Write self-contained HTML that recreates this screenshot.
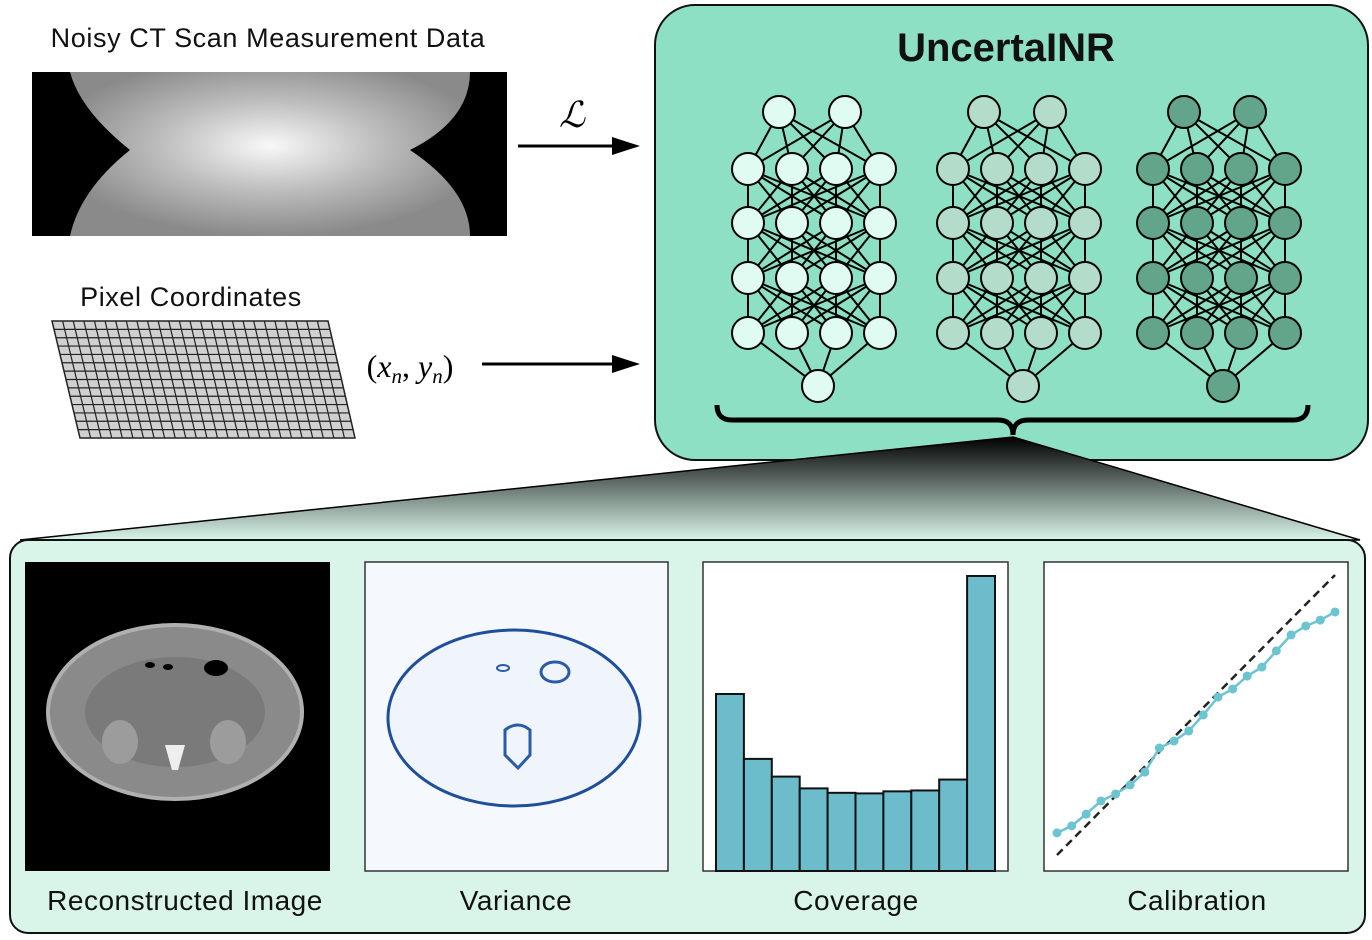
<!DOCTYPE html>
<html><head><meta charset="utf-8"><style>
body{margin:0;background:#fff;}
svg{display:block;font-family:"Liberation Sans",sans-serif;}
</style></head><body>
<svg id="fig" width="1372" height="940" viewBox="0 0 1372 940" xmlns="http://www.w3.org/2000/svg">
<defs>
<linearGradient id="funnel" x1="0" y1="0" x2="0" y2="1">
<stop offset="0" stop-color="#000"/><stop offset="1" stop-color="#d9f5ea"/>
</linearGradient>
<radialGradient id="sino" cx="0.5" cy="0.45" r="0.55">
<stop offset="0" stop-color="#f8f8f8"/><stop offset="0.5" stop-color="#bdbdbd"/><stop offset="1" stop-color="#8a8a8a"/>
</radialGradient>
</defs>

<text x="268" y="47" font-size="27" text-anchor="middle" fill="#111" letter-spacing="0.6">Noisy CT Scan Measurement Data</text>
<g>
<rect x="32" y="72" width="475" height="164" fill="#000"/>
<path d="M70,72 L470,72 Q470,120 410,150 Q470,190 470,236 L70,236 Q80,190 130,150 Q80,110 70,72 Z" fill="url(#sino)"/>
</g>

<text x="572" y="127" font-size="36" font-style="italic" text-anchor="middle" font-family="Liberation Serif,serif">ℒ</text>
<g><line x1="518" y1="146" x2="618" y2="146" stroke="#000" stroke-width="3"/><path d="M640,146 L612,137 L612,155 Z"/></g>
<g><line x1="482" y1="364" x2="618" y2="364" stroke="#000" stroke-width="3"/><path d="M640,364 L612,355 L612,373 Z"/></g>
<text x="410" y="377" font-size="32" text-anchor="middle" font-family="Liberation Serif,serif">(<tspan font-style="italic">x</tspan><tspan font-style="italic" font-size="21" dy="6">n</tspan><tspan dy="-6">, </tspan><tspan font-style="italic">y</tspan><tspan font-style="italic" font-size="21" dy="6">n</tspan><tspan dy="-6">)</tspan></text>

<text x="191" y="306" font-size="27" text-anchor="middle" fill="#111" letter-spacing="0.6">Pixel Coordinates</text>
<g id="grid"></g>

<rect x="655" y="5" width="713" height="455" rx="40" fill="#8de0c3" stroke="#111" stroke-width="2"/>
<text x="1006" y="61" font-size="40" font-weight="bold" text-anchor="middle" fill="#111">UncertaINR</text>
<g id="nets"></g>
<path d="M717,405 Q717,420 732,420 L998,420 Q1013,420 1013,435 Q1013,420 1028,420 L1293,420 Q1308,420 1308,405" fill="none" stroke="#000" stroke-width="5"/>

<path d="M1013,437 L1360,540 L20,540 Z" fill="url(#funnel)" stroke="#000" stroke-width="1.5"/>

<rect x="10" y="540" width="1355" height="393" rx="18" fill="#d9f5ea" stroke="#111" stroke-width="2"/>

<g>
<rect x="25" y="562" width="305" height="309" fill="#000"/>
<ellipse cx="175" cy="712" rx="127" ry="87" fill="#8a8a8a" stroke="#b0b0b0" stroke-width="4"/>
<ellipse cx="175" cy="712" rx="90" ry="55" fill="#7a7a7a"/>
<ellipse cx="120" cy="742" rx="18" ry="22" fill="#9c9c9c"/>
<ellipse cx="228" cy="742" rx="18" ry="22" fill="#9c9c9c"/>
<path d="M165,745 L185,745 L178,770 L172,770 Z" fill="#eee"/>
<ellipse cx="216" cy="668" rx="12" ry="8" fill="#000"/>
<ellipse cx="150" cy="665" rx="5" ry="3" fill="#000"/><ellipse cx="168" cy="667" rx="5" ry="3" fill="#000"/>
</g>
<text x="185" y="910" font-size="28" text-anchor="middle" fill="#111" letter-spacing="0.5">Reconstructed Image</text>

<g>
<rect x="365" y="562" width="303" height="309" fill="#f5f9fd" stroke="#333" stroke-width="1.5"/>
<ellipse cx="514" cy="718" rx="126" ry="88" fill="#f0f5fb" stroke="#1f4e9a" stroke-width="3"/>
<path d="M505,730 Q518,720 530,730 L530,755 L518,768 L505,755 Z" fill="none" stroke="#2a5aa8" stroke-width="3"/>
<ellipse cx="555" cy="672" rx="14" ry="10" fill="none" stroke="#2a5aa8" stroke-width="3"/>
<ellipse cx="503" cy="668" rx="6" ry="3" fill="none" stroke="#2a5aa8" stroke-width="2"/>
</g>
<text x="516" y="910" font-size="28" text-anchor="middle" fill="#111" letter-spacing="0.5">Variance</text>

<rect x="703" y="562" width="305" height="309" fill="#fff" stroke="#333" stroke-width="1.5"/>
<g id="hist"></g>
<text x="856" y="910" font-size="28" text-anchor="middle" fill="#111" letter-spacing="0.5">Coverage</text>

<rect x="1044" y="562" width="304" height="309" fill="#fff" stroke="#333" stroke-width="1.5"/>
<g id="calib"></g>
<text x="1197" y="910" font-size="28" text-anchor="middle" fill="#111" letter-spacing="0.5">Calibration</text>
</svg>
<script>
const NS="http://www.w3.org/2000/svg";
const coverageBins=[0,1,2,3,4,5,6,7,8,9];
const coverageCounts=[0.60,0.38,0.32,0.28,0.265,0.263,0.27,0.273,0.31,1.0];
const calibExpected=[0,0.053,0.105,0.158,0.211,0.263,0.316,0.368,0.421,0.474,0.526,0.579,0.632,0.684,0.737,0.789,0.842,0.895,0.947,1.0];
const calibObserved=[0.079,0.104,0.146,0.193,0.218,0.25,0.296,0.382,0.407,0.443,0.5,0.564,0.593,0.639,0.671,0.729,0.786,0.818,0.839,0.868];
const netColors=["#e0fbf2","#b3dccb","#62a58a"];

function mk(tag,attrs,parent){const e=document.createElementNS(NS,tag);for(const k in attrs)e.setAttribute(k,attrs[k]);parent.appendChild(e);return e;}

const g=document.getElementById('grid');
const TL=[52,321],TR=[328,321],BR=[355,438],BL=[80,438];
mk('polygon',{points:[TL,TR,BR,BL].map(p=>p.join(',')).join(' '),fill:'#d0d0d0',stroke:'#222','stroke-width':1.5},g);
const cols=26,rows=14;
for(let i=1;i<cols;i++){const t=i/cols;mk('line',{x1:TL[0]+(TR[0]-TL[0])*t,y1:321,x2:BL[0]+(BR[0]-BL[0])*t,y2:438,stroke:'#222','stroke-width':1.2},g);}
for(let j=1;j<rows;j++){const t=j/rows;const y=321+117*t;mk('line',{x1:52+28*t,y1:y,x2:328+27*t,y2:y,stroke:'#222','stroke-width':1.2},g);}

const nets=document.getElementById('nets');
const offs=[0,205,405];
offs.forEach((o,k)=>{
  const grp=mk('g',{},nets);
  
  
  const layers=[[[779+o,112],[845+o,112]]];
  [169,223,278,333].forEach(y=>layers.push([748,792,836,880].map(x=>[x+o,y])));
  layers.push([[818+o,386]]);
  for(let l=0;l<layers.length-1;l++)for(const a of layers[l])for(const b of layers[l+1])
    mk('line',{x1:a[0],y1:a[1],x2:b[0],y2:b[1],stroke:'#000','stroke-width':2},grp);
  for(const L of layers)for(const p of L){
    const c=mk('circle',{cx:p[0],cy:p[1],r:16,fill:netColors[k],stroke:'#000','stroke-width':2},grp);
    
    
  }
});

const hist=document.getElementById('hist');
const hx0=716,hx1=995,hy0=871,hTop=576;
const bw=(hx1-hx0)/coverageBins.length;
coverageBins.forEach((b,i)=>{
  const h=coverageCounts[i]*(hy0-hTop);
  const r=mk('rect',{x:hx0+b*bw,y:hy0-h,width:bw,height:h,fill:'#6dbccb',stroke:'#111','stroke-width':2},hist);
  
  
});

const cal=document.getElementById('calib');
const sx=v=>1057+v*(1335-1057), sy=v=>855-v*(855-575);
const diag=mk('line',{x1:sx(0),y1:sy(0),x2:sx(1),y2:sy(1),stroke:'#222','stroke-width':2.5,'stroke-dasharray':'8,5'},cal);


const pl=mk('polyline',{points:calibExpected.map((x,i)=>sx(x)+','+sy(calibObserved[i])).join(' '),fill:'none',stroke:'#6cc4d0','stroke-width':2.5},cal);


calibExpected.forEach((x,i)=>{
  const c=mk('circle',{cx:sx(x),cy:sy(calibObserved[i]),r:4.5,fill:'#6cc4d0'},cal);
  
  
});
</script>
</body></html>
